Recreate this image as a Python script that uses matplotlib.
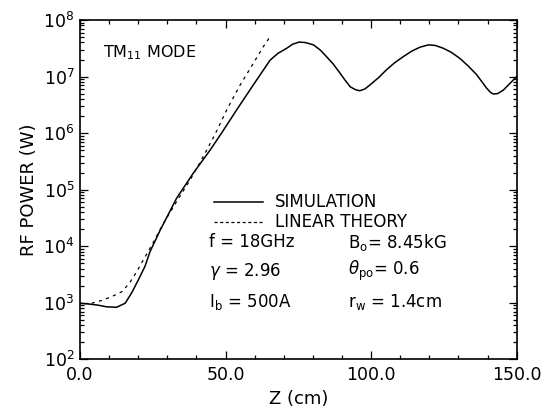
import matplotlib
matplotlib.use("Agg")
import matplotlib.pyplot as plt
from matplotlib.ticker import FixedLocator, LogLocator, NullFormatter, FixedFormatter
import numpy as np

# ---- data ----
z_sim = [0, 3, 6, 9, 12.5, 15.5, 17.7, 20, 22.3, 24, 27.5, 33.2, 38.9, 44.7, 49,
         53.8, 59.5, 65.3, 68, 71, 73, 75.3, 77.5, 80.2, 82.5, 84.7, 87, 89.3,
         91, 92.8, 94.5, 96, 97.8, 99.6, 102.5, 105.3, 108, 111, 114, 116.8,
         119.7, 122, 124.8, 127.5, 130.5, 133.5, 136.3, 139.7, 141, 142, 143.5,
         145.4, 147.5, 150]
p_sim = [980, 950, 910, 850, 830, 980, 1480, 2510, 4370, 7900, 19000, 70800,
         195000, 501000, 1.07e6, 2.57e6, 7.08e6, 1.95e7, 2.57e7, 3.16e7, 3.72e7,
         4.07e7, 3.98e7, 3.63e7, 2.95e7, 2.24e7, 1.66e7, 1.15e7, 8.7e6, 6.6e6,
         5.9e6, 5.6e6, 6.0e6, 7.1e6, 9.5e6, 1.32e7, 1.74e7, 2.24e7, 2.82e7,
         3.31e7, 3.63e7, 3.55e7, 3.16e7, 2.69e7, 2.09e7, 1.51e7, 1.07e7, 6.2e6,
         5.25e6, 4.9e6, 5.0e6, 5.75e6, 7.4e6, 1.0e7]

z_lin = [4, 7.5, 11, 14.5, 17, 19.5, 22, 25, 28.6, 33.2, 37.8, 42.4, 46.5, 50.4,
         55, 59.5, 63, 65.5]
p_lin = [980, 1100, 1290, 1580, 2240, 3550, 6030, 11200, 25100, 61700, 148000,
         389000, 977000, 2.57e6, 7.08e6, 1.7e7, 3.39e7, 5.25e7]

x_ticks = [0, 50, 100, 150]
x_tick_labels = ["0.0", "50.0", "100.0", "150.0"]
y_exponents = [2, 3, 4, 5, 6, 7, 8]

legend_labels = ["SIMULATION", "LINEAR THEORY"]
params_left = ["f = 18GHz", r"$\gamma$ = 2.96", r"I$_{\mathregular{b}}$ = 500A"]
params_right = [r"B$_{\mathregular{o}}$= 8.45kG", r"$\theta_{\mathregular{po}}$= 0.6",
                r"r$_{\mathregular{w}}$ = 1.4cm"]

plt.rcParams['font.family'] = ['DejaVu Sans']
plt.rcParams['mathtext.fontset'] = 'dejavusans'

fig = plt.figure(figsize=(5.42, 4.12), dpi=100)
ax = fig.add_axes([0.1476, 0.1279, 0.8057, 0.8236])

ax.plot(z_sim, p_sim, color='black', lw=1.1, solid_joinstyle='round')
ax.plot(z_lin, p_lin, color='black', lw=0.9, linestyle=(0, (2.5, 3.5)))

ax.set_yscale('log')
ax.set_xlim(0, 150)
ax.set_ylim(1e2, 1e8)

ax.xaxis.set_major_locator(FixedLocator(x_ticks))
ax.xaxis.set_major_formatter(FixedFormatter(x_tick_labels))
ax.xaxis.set_minor_locator(FixedLocator(np.arange(0, 151, 10)))
ax.yaxis.set_major_locator(FixedLocator([10.0 ** e for e in y_exponents]))
ax.yaxis.set_major_formatter(FixedFormatter([r"$10^{%d}$" % e for e in y_exponents]))
ax.yaxis.set_minor_locator(LogLocator(base=10, subs=np.arange(2, 10), numticks=20))
ax.yaxis.set_minor_formatter(NullFormatter())

ax.tick_params(which='both', direction='in', top=True, right=True, width=0.9)
ax.tick_params(which='major', length=6, labelsize=12.5)
ax.tick_params(which='minor', length=3)
ax.tick_params(axis='y', which='major', pad=4)
ax.tick_params(axis='x', which='major', pad=5)
for s in ax.spines.values():
    s.set_linewidth(1.2)

ax.set_xlabel("Z (cm)", fontsize=13, labelpad=4)
ax.set_ylabel("RF POWER (W)", fontsize=13, labelpad=4)

# annotations
ax.text(0.053, 0.905, r"TM$_{\mathregular{11}}$ MODE", transform=ax.transAxes,
        fontsize=11.5, va='center', ha='left')

# legend drawn as lines + texts (in axes fraction)
ax.plot([0.306, 0.42], [0.465, 0.465], transform=ax.transAxes, color='black', lw=1.1)
ax.plot([0.306, 0.42], [0.405, 0.405], transform=ax.transAxes, color='black', lw=0.9,
        linestyle=(0, (2.5, 2)))
ax.text(0.446, 0.465, legend_labels[0], transform=ax.transAxes, fontsize=12,
        va='center', ha='left')
ax.text(0.446, 0.405, legend_labels[1], transform=ax.transAxes, fontsize=12,
        va='center', ha='left')

ys = [0.345, 0.26, 0.17]
for t, y in zip(params_left, ys):
    ax.text(0.295, y, t, transform=ax.transAxes, fontsize=12, va='center', ha='left')
for t, y in zip(params_right, ys):
    ax.text(0.613, y, t, transform=ax.transAxes, fontsize=12, va='center', ha='left')

fig.savefig("out.png", dpi=100)
